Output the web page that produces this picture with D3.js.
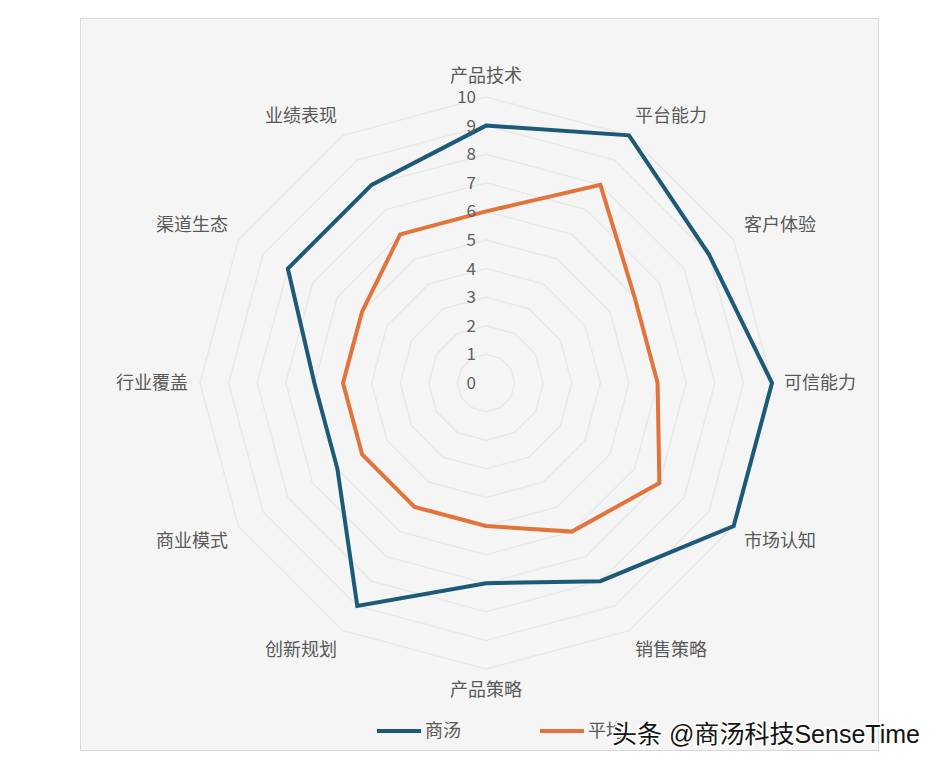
<!DOCTYPE html>
<html>
<head>
<meta charset="utf-8">
<script src="https://cdn.jsdelivr.net/npm/d3@7"></script>
<style>
  body { margin: 0; background: #ffffff; }
  svg { display: block; font-family: "Noto Sans CJK SC", "Noto Sans", sans-serif; }
</style>
</head>
<body>
<svg id="chart"></svg>
<script>
// categories, clockwise from the top
const categories = ["产品技术", "平台能力", "客户体验", "可信能力", "市场认知", "销售策略",
                    "产品策略", "创新规划", "商业模式", "行业覆盖", "渠道生态", "业绩表现"];
const seriesNames = ["商汤", "平均"];
const sensetime = [9, 10, 9, 10, 10, 8, 7, 9, 6, 6, 8, 8];
const average = [6, 8, 6, 6, 7, 6, 5, 5, 5, 5, 5, 6];
const scaleTicks = [0, 1, 2, 3, 4, 5, 6, 7, 8, 9, 10];
const watermark = "头条 @商汤科技SenseTime";

const colors = ["#1d5a78", "#e2733a"];

let svgWidth = 943, svgHeight = 766;
let cx = 486, cy = 383, R = 286;

let svg = d3.select("#chart")
    .attr("width", svgWidth)
    .attr("height", svgHeight);

// chart panel
svg.append("rect")
    .attr("x", 80.5).attr("y", 18.5)
    .attr("width", 798).attr("height", 732)
    .attr("fill", "#f5f5f5")
    .attr("stroke", "#d9d9d9");

let g = svg.append("g")
    .attr("transform", "translate(" + cx + "," + cy + ")");

let r = d3.scaleLinear().domain([0, 10]).range([0, R]);
let angle = d3.scaleLinear().domain([0, categories.length]).range([0, 2 * Math.PI]);

// grid rings
let ring = d3.lineRadial()
    .angle(function (d, i) { return angle(i); })
    .radius(function (d) { return r(d); })
    .curve(d3.curveLinearClosed);

g.selectAll(".grid")
    .data(scaleTicks.slice(1))
    .enter().append("path")
    .attr("class", "grid")
    .attr("d", function (t) { return ring(categories.map(function () { return t; })); })
    .attr("fill", "none")
    .attr("stroke", "#e8e8e8")
    .attr("stroke-width", 1.5);

// series
let line = d3.lineRadial()
    .angle(function (d, i) { return angle(i); })
    .radius(function (d) { return r(d); })
    .curve(d3.curveLinearClosed);

[sensetime, average].forEach(function (vals, k) {
    g.append("path")
        .datum(vals)
        .attr("fill", "none")
        .attr("stroke", colors[k])
        .attr("stroke-width", 4)
        .attr("stroke-linejoin", "miter")
        .attr("d", line);
});

// scale numbers
g.selectAll(".tick")
    .data(scaleTicks)
    .enter().append("text")
    .attr("class", "tick")
    .attr("x", -10)
    .attr("y", function (d) { return -r(d); })
    .attr("dy", "0.35em")
    .attr("text-anchor", "end")
    .attr("fill", "#606060")
    .style("font-size", "17px")
    .text(function (d) { return d; });

// category labels
let lr = R + 12;
g.selectAll(".cat")
    .data(categories)
    .enter().append("text")
    .attr("class", "cat")
    .each(function (d, i) {
        let a = angle(i);
        let s = Math.sin(a), c = Math.cos(a);
        let sx = Math.abs(s) < 1e-6 ? 0 : Math.sign(s);
        let sy = Math.abs(c) < 1e-6 ? 0 : Math.sign(c);
        d3.select(this)
            .attr("x", lr * s)
            .attr("y", -lr * c - 9 * sy)
            .attr("dy", "0.35em")
            .attr("text-anchor", sx > 0 ? "start" : (sx < 0 ? "end" : "middle"));
    })
    .attr("fill", "#595959")
    .style("font-size", "18px")
    .text(function (d) { return d; });

// legend
let legend = svg.append("g").attr("transform", "translate(0,731)");
let legX = [377, 540];
seriesNames.forEach(function (name, k) {
    legend.append("line")
        .attr("x1", legX[k]).attr("x2", legX[k] + 44)
        .attr("y1", 0).attr("y2", 0)
        .attr("stroke", colors[k])
        .attr("stroke-width", 4);
    legend.append("text")
        .attr("x", legX[k] + 48)
        .attr("y", 0)
        .attr("dy", "0.35em")
        .attr("fill", "#595959")
        .style("font-size", "18px")
        .text(name);
});

// watermark over the legend
svg.append("text")
    .attr("x", 612)
    .attr("y", 734)
    .attr("dy", "0.35em")
    .attr("textLength", 308)
    .attr("lengthAdjust", "spacingAndGlyphs")
    .attr("fill", "#141414")
    .attr("stroke", "#ffffff")
    .attr("stroke-width", 3)
    .attr("paint-order", "stroke")
    .style("font-size", "25px")
    .style("font-family", "'Liberation Sans', 'Noto Sans CJK SC', sans-serif")
    .text(watermark);
</script>
</body>
</html>
